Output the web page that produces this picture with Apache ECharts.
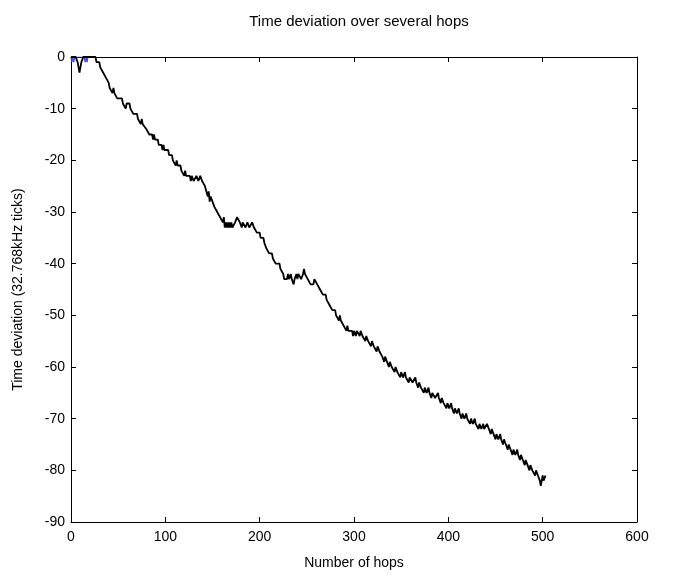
<!DOCTYPE html>
<html>
<head>
<meta charset="utf-8">
<script src="https://cdn.jsdelivr.net/npm/echarts@6/dist/echarts.min.js"></script>
<style>html,body{margin:0;padding:0;background:#fff}#c{width:683px;height:576px}</style>
</head>
<body>
<div id="c"></div>
<script>
var titleText = 'Time deviation over several hops';
var xName = 'Number of hops';
var yName = 'Time deviation (32.768kHz ticks)';
var xTicks = [0, 100, 200, 300, 400, 500, 600];
var yTicks = [-90, -80, -70, -60, -50, -40, -30, -20, -10, 0];

// [hop, deviation] pairs for the second (blue) trace
var blueTrace = [[0,0],[1,-1],[2,0],[3,-1],[4,0],[5,0],[14,0],[15,-1],[16,0],[17,-1],[18,0]];

// [hop, deviation] pairs for the main (black) trace
var blackTrace = [
[0,0],[5,0],[7,-1],[9,-3],[11,-1],[13,0],[22,0],
[26,0],[27,-1],[30,-1],[31,-2],[33,-2],[34,-3],[36,-3],[37,-4],[39,-4],[40,-5],[41,-6],[43,-6],[44,-7],[45,-6],[46,-7],[48,-7],[49,-8],[54,-8],[55,-9],[57,-9],[58,-10],[59,-9],[61,-9],[62,-9],[63,-10],[65,-10],[66,-11],[70,-11],[71,-12],[73,-12],[74,-13],[75,-12],[76,-13],[80,-14],[82,-14],[83,-15],[86,-15],[87,-16],[88,-15],[89,-16],[92,-16],[93,-17],[96,-17],[97,-18],[98,-17],[99,-18],[103,-18],[104,-19],[107,-19],[108,-20],[110,-20],[111,-21],[112,-20],[113,-21],[116,-21],[117,-22],[119,-22],[120,-23],[121,-22],[122,-23],[126,-23],[127,-24],[128,-23],[130,-24],[132,-24],[133,-23],[135,-24],[137,-23],[139,-24],[141,-24],[142,-25],[144,-25],[145,-27],[146,-26],[147,-28],[148,-27],[150,-28],[152,-29],[154,-29],[155,-30],[157,-30],[158,-31],[160,-31],[161,-32],[162,-31],[163,-33],[164,-32],[165,-33],[166,-32],[167,-33],[168,-32],[169,-33],[170,-32],[171,-33],[173,-33],[174,-32],[176,-31],[178,-31],[179,-32],[181,-33],[182,-32],[184,-32],[185,-33],[187,-32],[188,-32],[189,-33],[191,-33],[192,-32],[194,-33],[196,-33],
[197,-34],[200,-34],[201,-35],[204,-35],[205,-36],[207,-37],[209,-37],[210,-38],[213,-38],[214,-39],[216,-39],[217,-40],[221,-40],[222,-41],[224,-41],[225,-42],[226,-43],[229,-43],[230,-42],[231,-43],[233,-42],[234,-43],[236,-44],[237,-43],[239,-42],[240,-43],[241,-42],[243,-42],[244,-43],[246,-42],[247,-41],[248,-42],[250,-42],[251,-43],[253,-43],[254,-44],[257,-44],[258,-43],[260,-43],[261,-44],[263,-44],[264,-45],[266,-45],[267,-46],[270,-46],[271,-47],[273,-47],[274,-48],[276,-48],[277,-49],[280,-49],[281,-50],[283,-50],[284,-51],[285,-50],[286,-51],[288,-51],[289,-52],[291,-52],[292,-53],[293,-52],[294,-53],[296,-53],
[298,-53],[299,-54],[300,-53],[302,-54],[303,-53],[305,-53],[306,-54],[307,-53],[309,-54],[311,-54],[312,-55],[313,-54],[315,-55],[317,-55],[318,-56],[319,-55],[321,-56],[323,-56],[324,-57],[325,-56],[327,-57],[329,-57],[330,-58],[331,-58],[332,-59],[333,-58],[335,-59],[337,-60],[338,-59],[340,-60],[342,-60],[343,-61],[344,-60],[346,-61],[348,-61],[349,-62],[350,-61],[352,-62],[354,-61],[355,-62],[357,-62],[358,-63],[359,-62],[361,-62],[362,-63],[364,-63],[365,-62],[366,-63],[368,-64],[369,-63],[371,-64],[373,-64],[374,-65],[375,-64],[377,-65],[379,-64],[380,-65],[382,-66],[383,-65],[385,-65],[386,-66],[388,-66],[389,-65],[390,-66],[392,-67],[393,-66],[395,-67],[397,-67],[398,-68],[399,-67],[401,-68],[403,-67],[404,-68],[406,-69],[407,-68],[409,-69],[411,-68],[412,-69],[414,-70],[415,-69],[417,-70],[419,-69],[420,-70],[422,-70],[423,-71],[424,-70],[426,-71],[428,-70],[429,-71],[431,-71],[432,-72],[433,-71],[435,-72],[437,-71],[438,-72],[440,-72],[441,-71],[443,-72],[445,-73],[446,-72],[448,-73],[450,-74],[451,-73],[453,-74],[455,-73],[456,-74],[458,-75],[459,-74],[461,-75],[463,-76],[464,-75],[466,-76],[468,-77],[469,-76],[471,-77],[473,-76],[474,-77],[476,-78],[477,-77],[479,-78],[481,-79],[482,-78],[484,-79],[486,-80],[487,-79],[489,-80],[491,-80],[492,-81],[493,-80],[495,-81],[496,-81],[497,-82],[498,-83],[499,-82],[500,-81],[501,-82],[503,-81]
];

var chart = echarts.init(document.getElementById('c'), null, {renderer: 'canvas'});
var font = 'Liberation Sans, Arial, Helvetica, sans-serif';
var boxLine = {show: true, onZero: false, lineStyle: {color: '#000', width: 1}};
var ticksIn = {show: true, inside: true, length: 5, lineStyle: {color: '#000', width: 1}};
var xMin = xTicks[0], xMax = xTicks[xTicks.length - 1], xStep = xTicks[1] - xTicks[0];
var yMin = yTicks[0], yMax = yTicks[yTicks.length - 1], yStep = yTicks[1] - yTicks[0];

chart.setOption({
  animation: false,
  backgroundColor: '#fff',
  title: {
    text: titleText, left: 354, top: 9, textAlign: 'center',
    textStyle: {fontFamily: font, fontSize: 15, fontWeight: 'normal', color: '#000'}
  },
  grid: {left: 71, top: 57, width: 566, height: 465, containLabel: false},
  xAxis: [{
    type: 'value', min: xMin, max: xMax, interval: xStep, position: 'bottom',
    name: xName, nameLocation: 'middle', nameGap: 34,
    nameTextStyle: {fontFamily: font, fontSize: 14, color: '#000'},
    axisLine: boxLine, axisTick: ticksIn, splitLine: {show: false},
    axisLabel: {fontFamily: font, fontSize: 14, color: '#000', margin: 8}
  }, {
    type: 'value', min: xMin, max: xMax, interval: xStep, position: 'top',
    axisLine: boxLine, axisTick: ticksIn, splitLine: {show: false}, axisLabel: {show: false}
  }],
  yAxis: [{
    type: 'value', min: yMin, max: yMax, interval: yStep, position: 'left',
    name: yName, nameLocation: 'middle', nameGap: 46, nameRotate: 90,
    nameTextStyle: {fontFamily: font, fontSize: 14, color: '#000'},
    axisLine: boxLine, axisTick: ticksIn, splitLine: {show: false},
    axisLabel: {fontFamily: font, fontSize: 14, color: '#000', margin: 6}
  }, {
    type: 'value', min: yMin, max: yMax, interval: yStep, position: 'right',
    axisLine: boxLine, axisTick: ticksIn, splitLine: {show: false}, axisLabel: {show: false}
  }],
  series: [{
    type: 'line', data: blueTrace, xAxisIndex: 0, yAxisIndex: 0,
    showSymbol: false, lineStyle: {color: '#3c3cd8', width: 1}, z: 1
  }, {
    type: 'line', data: blackTrace, xAxisIndex: 0, yAxisIndex: 0,
    showSymbol: false, lineStyle: {color: '#000', width: 1.8}, z: 2
  }]
});
</script>
</body>
</html>
